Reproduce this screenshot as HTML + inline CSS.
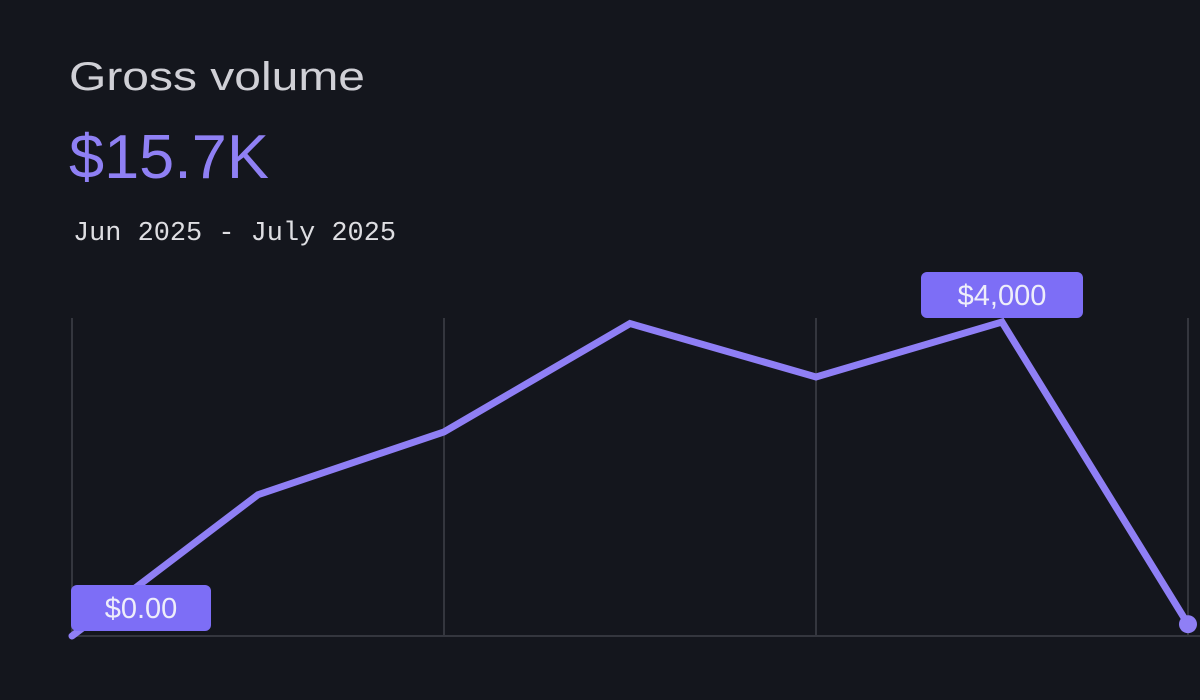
<!DOCTYPE html>
<html><head><meta charset="utf-8"><style>
html,body{margin:0;padding:0;background:#14161d;}
svg{display:block;}
</style></head><body>
<svg width="1200" height="700" viewBox="0 0 1200 700">
<rect width="1200" height="700" fill="#14161d"/>
<text x="69" y="90" font-family="Liberation Sans, sans-serif" font-size="40" fill="#d0d0d6" textLength="296" lengthAdjust="spacingAndGlyphs">Gross volume</text>
<text x="69" y="178" font-family="Liberation Sans, sans-serif" font-size="62" fill="#8f80f4" textLength="200" lengthAdjust="spacingAndGlyphs">$15.7K</text>
<text x="73" y="240" font-family="Liberation Mono, monospace" font-size="27" fill="#dedee2" textLength="323" lengthAdjust="spacingAndGlyphs">Jun 2025 - July 2025</text>
<g id="grid"></g>
<g id="plot"></g>
</svg>
<script>
const categories=["p1","p2","p3","p4","p5","p6","p7"];
const values=[0,1800,2600,3980,3300,4000,150];
const gridIdx=[0,2,4,6];
const NS="http://www.w3.org/2000/svg";
const x0=72,x1=1188,yBase=636,yTop=322,vMax=4000;
const xs=i=>x0+(x1-x0)*i/(categories.length-1);
const ys=v=>yBase-(yBase-yTop)*v/vMax;
const grid=document.getElementById('grid'),plot=document.getElementById('plot');
function mk(t,a,p){const e=document.createElementNS(NS,t);for(const k in a)e.setAttribute(k,a[k]);p.appendChild(e);return e;}
gridIdx.forEach(i=>{
  const l=mk('line',{x1:xs(i),x2:xs(i),y1:318,y2:yBase,stroke:'#34363e','stroke-width':2},grid);
  
  
});
const b=mk('line',{x1:70,x2:1200,y1:yBase,y2:yBase,stroke:'#34363e','stroke-width':2},grid);


const pts=values.map((v,i)=>xs(i)+','+ys(v)).join(' ');
const pl=mk('polyline',{points:pts,fill:'none',stroke:'#8f7ff5','stroke-width':7,'stroke-linejoin':'miter','stroke-linecap':'round'},plot);


const last=values.length-1;
const dot=mk('circle',{cx:xs(last),cy:ys(values[last]),r:9,fill:'#8f7ff5'},plot);


function label(txt,cx,top,w,name){
  const g=mk('g',{},plot);
  
  
  mk('rect',{x:cx-w/2,y:top,width:w,height:46,rx:6,fill:'#7d6ef6'},g);
  const t=mk('text',{x:cx,y:top+33,'text-anchor':'middle','font-family':'Liberation Sans, sans-serif','font-size':29,fill:'#eeeefa'},g);
  t.textContent=txt;
}
label('$'+values[0].toFixed(2),x0+69,585,140,'min-label');
const mi=values.indexOf(Math.max(...values));
label('$'+values[mi].toLocaleString('en-US'),xs(mi),272,162,'max-label');
</script>
</body></html>
